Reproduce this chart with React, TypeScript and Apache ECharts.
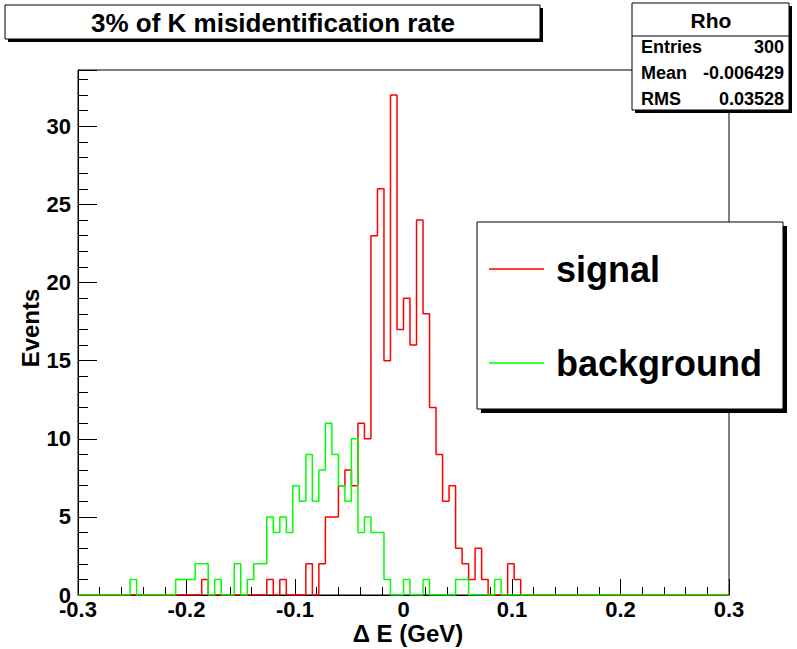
import React, { useEffect, useRef } from "react";
import * as echarts from "echarts";

// Histogram binning (100 bins from -0.3 to 0.3)
const X_MIN = -0.3;
const X_MAX = 0.3;
const N_BINS = 100;

// Bin contents
const signalCounts = [
  0, 0, 0, 0, 0, 0, 0, 0, 0, 0, 0, 0, 0, 0, 0, 0, 0, 0, 0, 1,
  0, 0, 0, 0, 0, 0, 0, 0, 0, 1, 0, 1, 0, 0, 0, 2, 0, 2, 5, 5,
  7, 8, 7, 11, 10, 23, 26, 15, 32, 17, 19, 16, 24, 18, 12, 9, 6, 7, 3, 2,
  1, 3, 1, 0, 0, 0, 2, 1, 0, 0, 0, 0, 0, 0, 0, 0, 0, 0, 0, 0,
  0, 0, 0, 0, 0, 0, 0, 0, 0, 0, 0, 0, 0, 0, 0, 0, 0, 0, 0, 0,
];
const backgroundCounts = [
  0, 0, 0, 0, 0, 0, 0, 0, 1, 0, 0, 0, 0, 0, 0, 1, 1, 1, 2, 2,
  0, 1, 0, 0, 2, 0, 1, 2, 2, 5, 4, 5, 4, 7, 6, 9, 6, 8, 11, 9,
  7, 6, 10, 4, 5, 4, 4, 1, 0, 0, 1, 0, 0, 1, 0, 0, 0, 0, 1, 1,
  0, 0, 0, 0, 1, 0, 0, 0, 0, 0, 0, 0, 0, 0, 0, 0, 0, 0, 0, 0,
  0, 0, 0, 0, 0, 0, 0, 0, 0, 0, 0, 0, 0, 0, 0, 0, 0, 0, 0, 0,
];

const seriesNames = ["signal", "background"];
const titleText = "3% of K misidentification rate";
const statsTitle = "Rho";
const statsLabels = ["Entries", "Mean", "RMS"];
const statsValues = ["300", "-0.006429", "0.03528"];
const xAxisTitle = "\u0394 E (GeV)";
const yAxisTitle = "Events";

const FONT = "'Liberation Sans', Arial, Helvetica, sans-serif";

function stepPoints(counts: number[]): number[][] {
  const w = (X_MAX - X_MIN) / N_BINS;
  const pts: number[][] = [];
  for (let i = 0; i < counts.length; i++) {
    const x0 = X_MIN + i * w;
    const x1 = X_MIN + (i + 1) * w;
    pts.push([x0, counts[i]], [x1, counts[i]]);
  }
  return pts;
}

function shadowBox(x: number, y: number, w: number, h: number, off: number) {
  return [
    {
      type: "rect",
      shape: { x: x + off, y: y + off, width: w, height: h },
      style: { fill: "#000" },
      z: 10,
    },
    {
      type: "rect",
      shape: { x, y, width: w, height: h },
      style: { fill: "#fff", stroke: "#000", lineWidth: 1 },
      z: 11,
    },
  ];
}

export default function App() {
  const ref = useRef<HTMLDivElement>(null);

  useEffect(() => {
    if (!ref.current) return;
    const chart = echarts.init(ref.current, undefined, { renderer: "svg" });

    const textStyleBase = { fontFamily: FONT, fontWeight: "bold", fill: "#000" };

    const graphics: any[] = [];
    // Title box
    graphics.push(...shadowBox(5, 5, 535, 34, 3));
    graphics.push({
      type: "text",
      x: 273,
      y: 23,
      z: 12,
      style: { ...textStyleBase, text: titleText, fontSize: 26, textAlign: "center", textVerticalAlign: "middle" },
    });
    // Stats box
    graphics.push(...shadowBox(632, 3, 157, 107, 3));
    graphics.push({
      type: "line",
      z: 12,
      shape: { x1: 632, y1: 36, x2: 789, y2: 36 },
      style: { stroke: "#000", lineWidth: 1 },
    });
    graphics.push({
      type: "text",
      x: 711,
      y: 20,
      z: 12,
      style: { ...textStyleBase, text: statsTitle, fontSize: 21, textAlign: "center", textVerticalAlign: "middle" },
    });
    const rowY = [47, 73, 99];
    statsLabels.forEach((lab, i) => {
      graphics.push({
        type: "text",
        x: 641,
        y: rowY[i],
        z: 12,
        style: { ...textStyleBase, text: lab, fontSize: 18, textAlign: "left", textVerticalAlign: "middle" },
      });
      graphics.push({
        type: "text",
        x: 784,
        y: rowY[i],
        z: 12,
        style: { ...textStyleBase, text: statsValues[i], fontSize: 18, textAlign: "right", textVerticalAlign: "middle" },
      });
    });
    // Legend box
    graphics.push(...shadowBox(477, 222, 306, 187, 4));
    const legendColors = ["#ff0000", "#00ff00"];
    const legendY = [269, 363];
    seriesNames.forEach((name, i) => {
      graphics.push({
        type: "line",
        z: 12,
        shape: { x1: 489, y1: legendY[i], x2: 544, y2: legendY[i] },
        style: { stroke: legendColors[i], lineWidth: 1.5 },
      });
      graphics.push({
        type: "text",
        x: 556,
        y: legendY[i],
        z: 12,
        style: { ...textStyleBase, text: name, fontSize: 36, textAlign: "left", textVerticalAlign: "middle" },
      });
    });
    // Axis titles
    graphics.push({
      type: "text",
      x: 30,
      y: 328,
      rotation: Math.PI / 2,
      z: 12,
      style: { ...textStyleBase, text: yAxisTitle, fontSize: 24, textAlign: "center", textVerticalAlign: "middle" },
    });
    graphics.push({
      type: "text",
      x: 408,
      y: 633,
      z: 12,
      style: { ...textStyleBase, text: xAxisTitle, fontSize: 24, textAlign: "center", textVerticalAlign: "middle" },
    });

    const axisLabelStyle = {
      fontFamily: FONT,
      fontWeight: "bold" as const,
      fontSize: 22,
      color: "#000",
    };

    chart.setOption({
      animation: false,
      backgroundColor: "#fff",
      grid: {
        left: 78,
        right: 68,
        top: 70,
        bottom: 54,
        show: true,
        borderColor: "#000",
        borderWidth: 1,
        backgroundColor: "transparent",
      },
      xAxis: {
        type: "value",
        min: X_MIN,
        max: X_MAX,
        interval: 0.1,
        axisLine: { show: true, onZero: false, lineStyle: { color: "#000", width: 1 } },
        axisTick: { show: true, inside: true, length: 16, lineStyle: { color: "#000" } },
        minorTick: { show: true, splitNumber: 5, length: 8, lineStyle: { color: "#000" } },
        splitLine: { show: false },
        axisLabel: {
          ...axisLabelStyle,
          margin: 3,
          formatter: (v: number) => String(+v.toFixed(1)),
        },
      },
      yAxis: {
        type: "value",
        min: 0,
        max: 33.6,
        interval: 5,
        axisLine: { show: true, onZero: false, lineStyle: { color: "#000", width: 1 } },
        axisTick: { show: true, inside: true, length: 19, lineStyle: { color: "#000" } },
        minorTick: { show: true, splitNumber: 5, length: 10, lineStyle: { color: "#000" } },
        splitLine: { show: false },
        axisLabel: {
          ...axisLabelStyle,
          margin: 7,
          formatter: (v: number) => (Math.abs(v % 5) < 1e-9 ? String(v) : ""),
        },
      },
      series: [
        {
          name: seriesNames[0],
          type: "line",
          data: stepPoints(signalCounts),
          symbol: "none",
          lineStyle: { color: "#ff0000", width: 1.5 },
          z: 3,
        },
        {
          name: seriesNames[1],
          type: "line",
          data: stepPoints(backgroundCounts),
          symbol: "none",
          lineStyle: { color: "#00ff00", width: 1.5 },
          z: 4,
        },
      ],
      graphic: graphics,
    });

    return () => chart.dispose();
  }, []);

  return (
    <div
      ref={ref}
      style={{ position: "fixed", left: 0, top: 0, width: 797, height: 649, background: "#fff" }}
    />
  );
}
